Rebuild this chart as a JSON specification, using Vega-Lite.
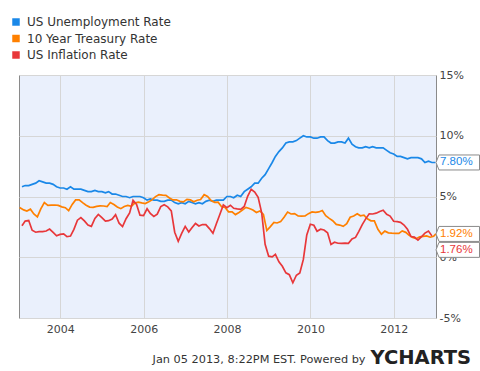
{
  "$schema": "https://vega.github.io/schema/vega-lite/v6.json",
  "width": 417,
  "height": 243,
  "autosize": {"type": "none"},
  "padding": {"left": 19, "top": 75, "right": 44, "bottom": 53},
  "background": "white",
  "config": {
    "font": "DejaVu Sans",
    "view": {"fill": "#EAF0FC", "stroke": "#8a8a8a", "strokeWidth": 1},
    "axis": {"gridColor": "#d6d6d6", "gridWidth": 1, "domain": false, "ticks": false, "labelFont": "DejaVu Sans", "labelFontSize": 11, "labelColor": "#444444"}
  },
  "datasets": {
    "rates": [
      {"series": "US Unemployment Rate", "date": "2003-01-31", "value": 5.8},
      {"series": "US Unemployment Rate", "date": "2003-02-28", "value": 5.9},
      {"series": "US Unemployment Rate", "date": "2003-03-31", "value": 5.9},
      {"series": "US Unemployment Rate", "date": "2003-04-30", "value": 6.0},
      {"series": "US Unemployment Rate", "date": "2003-05-31", "value": 6.1},
      {"series": "US Unemployment Rate", "date": "2003-06-30", "value": 6.3},
      {"series": "US Unemployment Rate", "date": "2003-07-31", "value": 6.2},
      {"series": "US Unemployment Rate", "date": "2003-08-31", "value": 6.1},
      {"series": "US Unemployment Rate", "date": "2003-09-30", "value": 6.1},
      {"series": "US Unemployment Rate", "date": "2003-10-31", "value": 6.0},
      {"series": "US Unemployment Rate", "date": "2003-11-30", "value": 5.8},
      {"series": "US Unemployment Rate", "date": "2003-12-31", "value": 5.7},
      {"series": "US Unemployment Rate", "date": "2004-01-31", "value": 5.7},
      {"series": "US Unemployment Rate", "date": "2004-02-29", "value": 5.6},
      {"series": "US Unemployment Rate", "date": "2004-03-31", "value": 5.8},
      {"series": "US Unemployment Rate", "date": "2004-04-30", "value": 5.6},
      {"series": "US Unemployment Rate", "date": "2004-05-31", "value": 5.6},
      {"series": "US Unemployment Rate", "date": "2004-06-30", "value": 5.6},
      {"series": "US Unemployment Rate", "date": "2004-07-31", "value": 5.5},
      {"series": "US Unemployment Rate", "date": "2004-08-31", "value": 5.4},
      {"series": "US Unemployment Rate", "date": "2004-09-30", "value": 5.4},
      {"series": "US Unemployment Rate", "date": "2004-10-31", "value": 5.5},
      {"series": "US Unemployment Rate", "date": "2004-11-30", "value": 5.4},
      {"series": "US Unemployment Rate", "date": "2004-12-31", "value": 5.4},
      {"series": "US Unemployment Rate", "date": "2005-01-31", "value": 5.3},
      {"series": "US Unemployment Rate", "date": "2005-02-28", "value": 5.4},
      {"series": "US Unemployment Rate", "date": "2005-03-31", "value": 5.2},
      {"series": "US Unemployment Rate", "date": "2005-04-30", "value": 5.2},
      {"series": "US Unemployment Rate", "date": "2005-05-31", "value": 5.1},
      {"series": "US Unemployment Rate", "date": "2005-06-30", "value": 5.0},
      {"series": "US Unemployment Rate", "date": "2005-07-31", "value": 5.0},
      {"series": "US Unemployment Rate", "date": "2005-08-31", "value": 4.9},
      {"series": "US Unemployment Rate", "date": "2005-09-30", "value": 5.0},
      {"series": "US Unemployment Rate", "date": "2005-10-31", "value": 5.0},
      {"series": "US Unemployment Rate", "date": "2005-11-30", "value": 5.0},
      {"series": "US Unemployment Rate", "date": "2005-12-31", "value": 4.9},
      {"series": "US Unemployment Rate", "date": "2006-01-31", "value": 4.7},
      {"series": "US Unemployment Rate", "date": "2006-02-28", "value": 4.8},
      {"series": "US Unemployment Rate", "date": "2006-03-31", "value": 4.7},
      {"series": "US Unemployment Rate", "date": "2006-04-30", "value": 4.7},
      {"series": "US Unemployment Rate", "date": "2006-05-31", "value": 4.6},
      {"series": "US Unemployment Rate", "date": "2006-06-30", "value": 4.6},
      {"series": "US Unemployment Rate", "date": "2006-07-31", "value": 4.7},
      {"series": "US Unemployment Rate", "date": "2006-08-31", "value": 4.7},
      {"series": "US Unemployment Rate", "date": "2006-09-30", "value": 4.5},
      {"series": "US Unemployment Rate", "date": "2006-10-31", "value": 4.4},
      {"series": "US Unemployment Rate", "date": "2006-11-30", "value": 4.5},
      {"series": "US Unemployment Rate", "date": "2006-12-31", "value": 4.4},
      {"series": "US Unemployment Rate", "date": "2007-01-31", "value": 4.6},
      {"series": "US Unemployment Rate", "date": "2007-02-28", "value": 4.5},
      {"series": "US Unemployment Rate", "date": "2007-03-31", "value": 4.4},
      {"series": "US Unemployment Rate", "date": "2007-04-30", "value": 4.5},
      {"series": "US Unemployment Rate", "date": "2007-05-31", "value": 4.4},
      {"series": "US Unemployment Rate", "date": "2007-06-30", "value": 4.6},
      {"series": "US Unemployment Rate", "date": "2007-07-31", "value": 4.7},
      {"series": "US Unemployment Rate", "date": "2007-08-31", "value": 4.6},
      {"series": "US Unemployment Rate", "date": "2007-09-30", "value": 4.7},
      {"series": "US Unemployment Rate", "date": "2007-10-31", "value": 4.7},
      {"series": "US Unemployment Rate", "date": "2007-11-30", "value": 4.7},
      {"series": "US Unemployment Rate", "date": "2007-12-31", "value": 5.0},
      {"series": "US Unemployment Rate", "date": "2008-01-31", "value": 5.0},
      {"series": "US Unemployment Rate", "date": "2008-02-29", "value": 4.9},
      {"series": "US Unemployment Rate", "date": "2008-03-31", "value": 5.1},
      {"series": "US Unemployment Rate", "date": "2008-04-30", "value": 5.0},
      {"series": "US Unemployment Rate", "date": "2008-05-31", "value": 5.4},
      {"series": "US Unemployment Rate", "date": "2008-06-30", "value": 5.6},
      {"series": "US Unemployment Rate", "date": "2008-07-31", "value": 5.8},
      {"series": "US Unemployment Rate", "date": "2008-08-31", "value": 6.1},
      {"series": "US Unemployment Rate", "date": "2008-09-30", "value": 6.1},
      {"series": "US Unemployment Rate", "date": "2008-10-31", "value": 6.5},
      {"series": "US Unemployment Rate", "date": "2008-11-30", "value": 6.8},
      {"series": "US Unemployment Rate", "date": "2008-12-31", "value": 7.3},
      {"series": "US Unemployment Rate", "date": "2009-01-31", "value": 7.8},
      {"series": "US Unemployment Rate", "date": "2009-02-28", "value": 8.3},
      {"series": "US Unemployment Rate", "date": "2009-03-31", "value": 8.7},
      {"series": "US Unemployment Rate", "date": "2009-04-30", "value": 9.0},
      {"series": "US Unemployment Rate", "date": "2009-05-31", "value": 9.4},
      {"series": "US Unemployment Rate", "date": "2009-06-30", "value": 9.5},
      {"series": "US Unemployment Rate", "date": "2009-07-31", "value": 9.5},
      {"series": "US Unemployment Rate", "date": "2009-08-31", "value": 9.6},
      {"series": "US Unemployment Rate", "date": "2009-09-30", "value": 9.8},
      {"series": "US Unemployment Rate", "date": "2009-10-31", "value": 10.0},
      {"series": "US Unemployment Rate", "date": "2009-11-30", "value": 9.9},
      {"series": "US Unemployment Rate", "date": "2009-12-31", "value": 9.9},
      {"series": "US Unemployment Rate", "date": "2010-01-31", "value": 9.8},
      {"series": "US Unemployment Rate", "date": "2010-02-28", "value": 9.8},
      {"series": "US Unemployment Rate", "date": "2010-03-31", "value": 9.9},
      {"series": "US Unemployment Rate", "date": "2010-04-30", "value": 9.9},
      {"series": "US Unemployment Rate", "date": "2010-05-31", "value": 9.6},
      {"series": "US Unemployment Rate", "date": "2010-06-30", "value": 9.4},
      {"series": "US Unemployment Rate", "date": "2010-07-31", "value": 9.4},
      {"series": "US Unemployment Rate", "date": "2010-08-31", "value": 9.5},
      {"series": "US Unemployment Rate", "date": "2010-09-30", "value": 9.5},
      {"series": "US Unemployment Rate", "date": "2010-10-31", "value": 9.4},
      {"series": "US Unemployment Rate", "date": "2010-11-30", "value": 9.8},
      {"series": "US Unemployment Rate", "date": "2010-12-31", "value": 9.3},
      {"series": "US Unemployment Rate", "date": "2011-01-31", "value": 9.1},
      {"series": "US Unemployment Rate", "date": "2011-02-28", "value": 9.0},
      {"series": "US Unemployment Rate", "date": "2011-03-31", "value": 9.0},
      {"series": "US Unemployment Rate", "date": "2011-04-30", "value": 9.1},
      {"series": "US Unemployment Rate", "date": "2011-05-31", "value": 9.0},
      {"series": "US Unemployment Rate", "date": "2011-06-30", "value": 9.1},
      {"series": "US Unemployment Rate", "date": "2011-07-31", "value": 9.0},
      {"series": "US Unemployment Rate", "date": "2011-08-31", "value": 9.0},
      {"series": "US Unemployment Rate", "date": "2011-09-30", "value": 9.0},
      {"series": "US Unemployment Rate", "date": "2011-10-31", "value": 8.8},
      {"series": "US Unemployment Rate", "date": "2011-11-30", "value": 8.6},
      {"series": "US Unemployment Rate", "date": "2011-12-31", "value": 8.5},
      {"series": "US Unemployment Rate", "date": "2012-01-31", "value": 8.3},
      {"series": "US Unemployment Rate", "date": "2012-02-29", "value": 8.3},
      {"series": "US Unemployment Rate", "date": "2012-03-31", "value": 8.2},
      {"series": "US Unemployment Rate", "date": "2012-04-30", "value": 8.1},
      {"series": "US Unemployment Rate", "date": "2012-05-31", "value": 8.2},
      {"series": "US Unemployment Rate", "date": "2012-06-30", "value": 8.2},
      {"series": "US Unemployment Rate", "date": "2012-07-31", "value": 8.2},
      {"series": "US Unemployment Rate", "date": "2012-08-31", "value": 8.1},
      {"series": "US Unemployment Rate", "date": "2012-09-30", "value": 7.8},
      {"series": "US Unemployment Rate", "date": "2012-10-31", "value": 7.9},
      {"series": "US Unemployment Rate", "date": "2012-11-30", "value": 7.8},
      {"series": "US Unemployment Rate", "date": "2012-12-31", "value": 7.8},

      {"series": "10 Year Treasury Rate", "date": "2003-01-10", "value": 4.1},
      {"series": "10 Year Treasury Rate", "date": "2003-02-15", "value": 3.9},
      {"series": "10 Year Treasury Rate", "date": "2003-03-15", "value": 3.81},
      {"series": "10 Year Treasury Rate", "date": "2003-04-15", "value": 3.96},
      {"series": "10 Year Treasury Rate", "date": "2003-05-15", "value": 3.57},
      {"series": "10 Year Treasury Rate", "date": "2003-06-15", "value": 3.33},
      {"series": "10 Year Treasury Rate", "date": "2003-07-15", "value": 3.98},
      {"series": "10 Year Treasury Rate", "date": "2003-08-15", "value": 4.5},
      {"series": "10 Year Treasury Rate", "date": "2003-09-15", "value": 4.27},
      {"series": "10 Year Treasury Rate", "date": "2003-10-15", "value": 4.29},
      {"series": "10 Year Treasury Rate", "date": "2003-11-15", "value": 4.3},
      {"series": "10 Year Treasury Rate", "date": "2003-12-15", "value": 4.27},
      {"series": "10 Year Treasury Rate", "date": "2004-01-15", "value": 4.15},
      {"series": "10 Year Treasury Rate", "date": "2004-02-15", "value": 4.08},
      {"series": "10 Year Treasury Rate", "date": "2004-03-15", "value": 3.83},
      {"series": "10 Year Treasury Rate", "date": "2004-04-15", "value": 4.35},
      {"series": "10 Year Treasury Rate", "date": "2004-05-15", "value": 4.72},
      {"series": "10 Year Treasury Rate", "date": "2004-06-15", "value": 4.73},
      {"series": "10 Year Treasury Rate", "date": "2004-07-15", "value": 4.5},
      {"series": "10 Year Treasury Rate", "date": "2004-08-15", "value": 4.28},
      {"series": "10 Year Treasury Rate", "date": "2004-09-15", "value": 4.13},
      {"series": "10 Year Treasury Rate", "date": "2004-10-15", "value": 4.1},
      {"series": "10 Year Treasury Rate", "date": "2004-11-15", "value": 4.19},
      {"series": "10 Year Treasury Rate", "date": "2004-12-15", "value": 4.23},
      {"series": "10 Year Treasury Rate", "date": "2005-01-15", "value": 4.22},
      {"series": "10 Year Treasury Rate", "date": "2005-02-15", "value": 4.17},
      {"series": "10 Year Treasury Rate", "date": "2005-03-15", "value": 4.5},
      {"series": "10 Year Treasury Rate", "date": "2005-04-15", "value": 4.34},
      {"series": "10 Year Treasury Rate", "date": "2005-05-15", "value": 4.14},
      {"series": "10 Year Treasury Rate", "date": "2005-06-15", "value": 4.0},
      {"series": "10 Year Treasury Rate", "date": "2005-07-15", "value": 4.18},
      {"series": "10 Year Treasury Rate", "date": "2005-08-15", "value": 4.26},
      {"series": "10 Year Treasury Rate", "date": "2005-09-15", "value": 4.2},
      {"series": "10 Year Treasury Rate", "date": "2005-10-15", "value": 4.46},
      {"series": "10 Year Treasury Rate", "date": "2005-11-15", "value": 4.54},
      {"series": "10 Year Treasury Rate", "date": "2005-12-15", "value": 4.47},
      {"series": "10 Year Treasury Rate", "date": "2006-01-15", "value": 4.42},
      {"series": "10 Year Treasury Rate", "date": "2006-02-15", "value": 4.57},
      {"series": "10 Year Treasury Rate", "date": "2006-03-15", "value": 4.72},
      {"series": "10 Year Treasury Rate", "date": "2006-04-15", "value": 4.99},
      {"series": "10 Year Treasury Rate", "date": "2006-05-15", "value": 5.15},
      {"series": "10 Year Treasury Rate", "date": "2006-06-15", "value": 5.11},
      {"series": "10 Year Treasury Rate", "date": "2006-07-15", "value": 5.09},
      {"series": "10 Year Treasury Rate", "date": "2006-08-15", "value": 4.88},
      {"series": "10 Year Treasury Rate", "date": "2006-09-15", "value": 4.72},
      {"series": "10 Year Treasury Rate", "date": "2006-10-15", "value": 4.73},
      {"series": "10 Year Treasury Rate", "date": "2006-11-15", "value": 4.6},
      {"series": "10 Year Treasury Rate", "date": "2006-12-15", "value": 4.56},
      {"series": "10 Year Treasury Rate", "date": "2007-01-15", "value": 4.76},
      {"series": "10 Year Treasury Rate", "date": "2007-02-15", "value": 4.72},
      {"series": "10 Year Treasury Rate", "date": "2007-03-15", "value": 4.56},
      {"series": "10 Year Treasury Rate", "date": "2007-04-15", "value": 4.69},
      {"series": "10 Year Treasury Rate", "date": "2007-05-15", "value": 4.75},
      {"series": "10 Year Treasury Rate", "date": "2007-06-15", "value": 5.15},
      {"series": "10 Year Treasury Rate", "date": "2007-07-15", "value": 5.0},
      {"series": "10 Year Treasury Rate", "date": "2007-08-15", "value": 4.67},
      {"series": "10 Year Treasury Rate", "date": "2007-09-15", "value": 4.52},
      {"series": "10 Year Treasury Rate", "date": "2007-10-15", "value": 4.53},
      {"series": "10 Year Treasury Rate", "date": "2007-11-15", "value": 4.15},
      {"series": "10 Year Treasury Rate", "date": "2007-12-15", "value": 4.1},
      {"series": "10 Year Treasury Rate", "date": "2008-01-15", "value": 3.74},
      {"series": "10 Year Treasury Rate", "date": "2008-02-15", "value": 3.74},
      {"series": "10 Year Treasury Rate", "date": "2008-03-15", "value": 3.51},
      {"series": "10 Year Treasury Rate", "date": "2008-04-15", "value": 3.68},
      {"series": "10 Year Treasury Rate", "date": "2008-05-15", "value": 3.88},
      {"series": "10 Year Treasury Rate", "date": "2008-06-15", "value": 4.1},
      {"series": "10 Year Treasury Rate", "date": "2008-07-15", "value": 4.01},
      {"series": "10 Year Treasury Rate", "date": "2008-08-15", "value": 3.89},
      {"series": "10 Year Treasury Rate", "date": "2008-09-15", "value": 3.69},
      {"series": "10 Year Treasury Rate", "date": "2008-10-15", "value": 3.81},
      {"series": "10 Year Treasury Rate", "date": "2008-11-15", "value": 3.53},
      {"series": "10 Year Treasury Rate", "date": "2008-12-15", "value": 2.2},
      {"series": "10 Year Treasury Rate", "date": "2009-01-15", "value": 2.52},
      {"series": "10 Year Treasury Rate", "date": "2009-02-15", "value": 2.87},
      {"series": "10 Year Treasury Rate", "date": "2009-03-15", "value": 2.82},
      {"series": "10 Year Treasury Rate", "date": "2009-04-15", "value": 2.93},
      {"series": "10 Year Treasury Rate", "date": "2009-05-15", "value": 3.29},
      {"series": "10 Year Treasury Rate", "date": "2009-06-15", "value": 3.72},
      {"series": "10 Year Treasury Rate", "date": "2009-07-15", "value": 3.56},
      {"series": "10 Year Treasury Rate", "date": "2009-08-15", "value": 3.59},
      {"series": "10 Year Treasury Rate", "date": "2009-09-15", "value": 3.4},
      {"series": "10 Year Treasury Rate", "date": "2009-10-15", "value": 3.39},
      {"series": "10 Year Treasury Rate", "date": "2009-11-15", "value": 3.4},
      {"series": "10 Year Treasury Rate", "date": "2009-12-15", "value": 3.59},
      {"series": "10 Year Treasury Rate", "date": "2010-01-15", "value": 3.73},
      {"series": "10 Year Treasury Rate", "date": "2010-02-15", "value": 3.69},
      {"series": "10 Year Treasury Rate", "date": "2010-03-15", "value": 3.73},
      {"series": "10 Year Treasury Rate", "date": "2010-04-15", "value": 3.85},
      {"series": "10 Year Treasury Rate", "date": "2010-05-15", "value": 3.42},
      {"series": "10 Year Treasury Rate", "date": "2010-06-15", "value": 3.2},
      {"series": "10 Year Treasury Rate", "date": "2010-07-15", "value": 3.01},
      {"series": "10 Year Treasury Rate", "date": "2010-08-15", "value": 2.7},
      {"series": "10 Year Treasury Rate", "date": "2010-09-15", "value": 2.65},
      {"series": "10 Year Treasury Rate", "date": "2010-10-15", "value": 2.54},
      {"series": "10 Year Treasury Rate", "date": "2010-11-15", "value": 2.76},
      {"series": "10 Year Treasury Rate", "date": "2010-12-15", "value": 3.29},
      {"series": "10 Year Treasury Rate", "date": "2011-01-15", "value": 3.39},
      {"series": "10 Year Treasury Rate", "date": "2011-02-15", "value": 3.58},
      {"series": "10 Year Treasury Rate", "date": "2011-03-15", "value": 3.41},
      {"series": "10 Year Treasury Rate", "date": "2011-04-15", "value": 3.46},
      {"series": "10 Year Treasury Rate", "date": "2011-05-15", "value": 3.17},
      {"series": "10 Year Treasury Rate", "date": "2011-06-15", "value": 3.0},
      {"series": "10 Year Treasury Rate", "date": "2011-07-15", "value": 3.0},
      {"series": "10 Year Treasury Rate", "date": "2011-08-15", "value": 2.3},
      {"series": "10 Year Treasury Rate", "date": "2011-09-15", "value": 1.9},
      {"series": "10 Year Treasury Rate", "date": "2011-10-15", "value": 2.15},
      {"series": "10 Year Treasury Rate", "date": "2011-11-15", "value": 2.01},
      {"series": "10 Year Treasury Rate", "date": "2011-12-15", "value": 1.98},
      {"series": "10 Year Treasury Rate", "date": "2012-01-15", "value": 1.97},
      {"series": "10 Year Treasury Rate", "date": "2012-02-15", "value": 1.97},
      {"series": "10 Year Treasury Rate", "date": "2012-03-15", "value": 2.17},
      {"series": "10 Year Treasury Rate", "date": "2012-04-15", "value": 2.05},
      {"series": "10 Year Treasury Rate", "date": "2012-05-15", "value": 1.8},
      {"series": "10 Year Treasury Rate", "date": "2012-06-15", "value": 1.62},
      {"series": "10 Year Treasury Rate", "date": "2012-07-15", "value": 1.53},
      {"series": "10 Year Treasury Rate", "date": "2012-08-15", "value": 1.68},
      {"series": "10 Year Treasury Rate", "date": "2012-09-15", "value": 1.72},
      {"series": "10 Year Treasury Rate", "date": "2012-10-15", "value": 1.75},
      {"series": "10 Year Treasury Rate", "date": "2012-11-15", "value": 1.65},
      {"series": "10 Year Treasury Rate", "date": "2012-12-15", "value": 1.72},
      {"series": "10 Year Treasury Rate", "date": "2013-01-04", "value": 1.92},

      {"series": "US Inflation Rate", "date": "2003-01-31", "value": 2.6},
      {"series": "US Inflation Rate", "date": "2003-02-28", "value": 2.98},
      {"series": "US Inflation Rate", "date": "2003-03-31", "value": 3.02},
      {"series": "US Inflation Rate", "date": "2003-04-30", "value": 2.22},
      {"series": "US Inflation Rate", "date": "2003-05-31", "value": 2.06},
      {"series": "US Inflation Rate", "date": "2003-06-30", "value": 2.11},
      {"series": "US Inflation Rate", "date": "2003-07-31", "value": 2.11},
      {"series": "US Inflation Rate", "date": "2003-08-31", "value": 2.16},
      {"series": "US Inflation Rate", "date": "2003-09-30", "value": 2.32},
      {"series": "US Inflation Rate", "date": "2003-10-31", "value": 2.04},
      {"series": "US Inflation Rate", "date": "2003-11-30", "value": 1.77},
      {"series": "US Inflation Rate", "date": "2003-12-31", "value": 1.88},
      {"series": "US Inflation Rate", "date": "2004-01-31", "value": 1.93},
      {"series": "US Inflation Rate", "date": "2004-02-29", "value": 1.69},
      {"series": "US Inflation Rate", "date": "2004-03-31", "value": 1.74},
      {"series": "US Inflation Rate", "date": "2004-04-30", "value": 2.29},
      {"series": "US Inflation Rate", "date": "2004-05-31", "value": 3.05},
      {"series": "US Inflation Rate", "date": "2004-06-30", "value": 3.27},
      {"series": "US Inflation Rate", "date": "2004-07-31", "value": 2.99},
      {"series": "US Inflation Rate", "date": "2004-08-31", "value": 2.65},
      {"series": "US Inflation Rate", "date": "2004-09-30", "value": 2.54},
      {"series": "US Inflation Rate", "date": "2004-10-31", "value": 3.19},
      {"series": "US Inflation Rate", "date": "2004-11-30", "value": 3.52},
      {"series": "US Inflation Rate", "date": "2004-12-31", "value": 3.26},
      {"series": "US Inflation Rate", "date": "2005-01-31", "value": 2.97},
      {"series": "US Inflation Rate", "date": "2005-02-28", "value": 3.01},
      {"series": "US Inflation Rate", "date": "2005-03-31", "value": 3.15},
      {"series": "US Inflation Rate", "date": "2005-04-30", "value": 3.51},
      {"series": "US Inflation Rate", "date": "2005-05-31", "value": 2.8},
      {"series": "US Inflation Rate", "date": "2005-06-30", "value": 2.53},
      {"series": "US Inflation Rate", "date": "2005-07-31", "value": 3.17},
      {"series": "US Inflation Rate", "date": "2005-08-31", "value": 3.64},
      {"series": "US Inflation Rate", "date": "2005-09-30", "value": 4.69},
      {"series": "US Inflation Rate", "date": "2005-10-31", "value": 4.35},
      {"series": "US Inflation Rate", "date": "2005-11-30", "value": 3.46},
      {"series": "US Inflation Rate", "date": "2005-12-31", "value": 3.42},
      {"series": "US Inflation Rate", "date": "2006-01-31", "value": 3.99},
      {"series": "US Inflation Rate", "date": "2006-02-28", "value": 3.6},
      {"series": "US Inflation Rate", "date": "2006-03-31", "value": 3.36},
      {"series": "US Inflation Rate", "date": "2006-04-30", "value": 3.55},
      {"series": "US Inflation Rate", "date": "2006-05-31", "value": 4.17},
      {"series": "US Inflation Rate", "date": "2006-06-30", "value": 4.32},
      {"series": "US Inflation Rate", "date": "2006-07-31", "value": 4.15},
      {"series": "US Inflation Rate", "date": "2006-08-31", "value": 3.82},
      {"series": "US Inflation Rate", "date": "2006-09-30", "value": 2.06},
      {"series": "US Inflation Rate", "date": "2006-10-31", "value": 1.31},
      {"series": "US Inflation Rate", "date": "2006-11-30", "value": 1.97},
      {"series": "US Inflation Rate", "date": "2006-12-31", "value": 2.54},
      {"series": "US Inflation Rate", "date": "2007-01-31", "value": 2.08},
      {"series": "US Inflation Rate", "date": "2007-02-28", "value": 2.42},
      {"series": "US Inflation Rate", "date": "2007-03-31", "value": 2.78},
      {"series": "US Inflation Rate", "date": "2007-04-30", "value": 2.57},
      {"series": "US Inflation Rate", "date": "2007-05-31", "value": 2.69},
      {"series": "US Inflation Rate", "date": "2007-06-30", "value": 2.69},
      {"series": "US Inflation Rate", "date": "2007-07-31", "value": 2.36},
      {"series": "US Inflation Rate", "date": "2007-08-31", "value": 1.97},
      {"series": "US Inflation Rate", "date": "2007-09-30", "value": 2.76},
      {"series": "US Inflation Rate", "date": "2007-10-31", "value": 3.54},
      {"series": "US Inflation Rate", "date": "2007-11-30", "value": 4.31},
      {"series": "US Inflation Rate", "date": "2007-12-31", "value": 4.08},
      {"series": "US Inflation Rate", "date": "2008-01-31", "value": 4.28},
      {"series": "US Inflation Rate", "date": "2008-02-29", "value": 4.03},
      {"series": "US Inflation Rate", "date": "2008-03-31", "value": 3.98},
      {"series": "US Inflation Rate", "date": "2008-04-30", "value": 3.94},
      {"series": "US Inflation Rate", "date": "2008-05-31", "value": 4.18},
      {"series": "US Inflation Rate", "date": "2008-06-30", "value": 5.02},
      {"series": "US Inflation Rate", "date": "2008-07-31", "value": 5.6},
      {"series": "US Inflation Rate", "date": "2008-08-31", "value": 5.37},
      {"series": "US Inflation Rate", "date": "2008-09-30", "value": 4.94},
      {"series": "US Inflation Rate", "date": "2008-10-31", "value": 3.66},
      {"series": "US Inflation Rate", "date": "2008-11-30", "value": 1.07},
      {"series": "US Inflation Rate", "date": "2008-12-31", "value": 0.09},
      {"series": "US Inflation Rate", "date": "2009-01-31", "value": 0.03},
      {"series": "US Inflation Rate", "date": "2009-02-28", "value": 0.24},
      {"series": "US Inflation Rate", "date": "2009-03-31", "value": -0.38},
      {"series": "US Inflation Rate", "date": "2009-04-30", "value": -0.74},
      {"series": "US Inflation Rate", "date": "2009-05-31", "value": -1.28},
      {"series": "US Inflation Rate", "date": "2009-06-30", "value": -1.43},
      {"series": "US Inflation Rate", "date": "2009-07-31", "value": -2.1},
      {"series": "US Inflation Rate", "date": "2009-08-31", "value": -1.48},
      {"series": "US Inflation Rate", "date": "2009-09-30", "value": -1.29},
      {"series": "US Inflation Rate", "date": "2009-10-31", "value": -0.18},
      {"series": "US Inflation Rate", "date": "2009-11-30", "value": 1.84},
      {"series": "US Inflation Rate", "date": "2009-12-31", "value": 2.72},
      {"series": "US Inflation Rate", "date": "2010-01-31", "value": 2.63},
      {"series": "US Inflation Rate", "date": "2010-02-28", "value": 2.14},
      {"series": "US Inflation Rate", "date": "2010-03-31", "value": 2.31},
      {"series": "US Inflation Rate", "date": "2010-04-30", "value": 2.24},
      {"series": "US Inflation Rate", "date": "2010-05-31", "value": 2.02},
      {"series": "US Inflation Rate", "date": "2010-06-30", "value": 1.05},
      {"series": "US Inflation Rate", "date": "2010-07-31", "value": 1.24},
      {"series": "US Inflation Rate", "date": "2010-08-31", "value": 1.15},
      {"series": "US Inflation Rate", "date": "2010-09-30", "value": 1.14},
      {"series": "US Inflation Rate", "date": "2010-10-31", "value": 1.17},
      {"series": "US Inflation Rate", "date": "2010-11-30", "value": 1.14},
      {"series": "US Inflation Rate", "date": "2010-12-31", "value": 1.5},
      {"series": "US Inflation Rate", "date": "2011-01-31", "value": 1.63},
      {"series": "US Inflation Rate", "date": "2011-02-28", "value": 2.11},
      {"series": "US Inflation Rate", "date": "2011-03-31", "value": 2.68},
      {"series": "US Inflation Rate", "date": "2011-04-30", "value": 3.16},
      {"series": "US Inflation Rate", "date": "2011-05-31", "value": 3.57},
      {"series": "US Inflation Rate", "date": "2011-06-30", "value": 3.56},
      {"series": "US Inflation Rate", "date": "2011-07-31", "value": 3.63},
      {"series": "US Inflation Rate", "date": "2011-08-31", "value": 3.77},
      {"series": "US Inflation Rate", "date": "2011-09-30", "value": 3.87},
      {"series": "US Inflation Rate", "date": "2011-10-31", "value": 3.53},
      {"series": "US Inflation Rate", "date": "2011-11-30", "value": 3.39},
      {"series": "US Inflation Rate", "date": "2011-12-31", "value": 2.96},
      {"series": "US Inflation Rate", "date": "2012-01-31", "value": 2.93},
      {"series": "US Inflation Rate", "date": "2012-02-29", "value": 2.87},
      {"series": "US Inflation Rate", "date": "2012-03-31", "value": 2.65},
      {"series": "US Inflation Rate", "date": "2012-04-30", "value": 2.3},
      {"series": "US Inflation Rate", "date": "2012-05-31", "value": 1.7},
      {"series": "US Inflation Rate", "date": "2012-06-30", "value": 1.66},
      {"series": "US Inflation Rate", "date": "2012-07-31", "value": 1.41},
      {"series": "US Inflation Rate", "date": "2012-08-31", "value": 1.69},
      {"series": "US Inflation Rate", "date": "2012-09-30", "value": 1.99},
      {"series": "US Inflation Rate", "date": "2012-10-31", "value": 2.16},
      {"series": "US Inflation Rate", "date": "2012-11-30", "value": 1.76}
    ],
    "latest": [
      {"series": "US Unemployment Rate", "date": "2013-01-05", "value": 7.8, "label": "7.80%"},
      {"series": "10 Year Treasury Rate", "date": "2013-01-05", "value": 1.92, "label": "1.92%"},
      {"series": "US Inflation Rate", "date": "2013-01-05", "value": 1.76, "label": "1.76%"}
    ]
  },
  "encoding": {
    "x": {
      "field": "date",
      "type": "temporal",
      "scale": {"domain": [{"year": 2003, "month": 1, "date": 5}, {"year": 2013, "month": 1, "date": 5}]},
      "axis": {
        "values": [{"year": 2004, "month": 1, "date": 1}, {"year": 2006, "month": 1, "date": 1}, {"year": 2008, "month": 1, "date": 1}, {"year": 2010, "month": 1, "date": 1}, {"year": 2012, "month": 1, "date": 1}],
        "format": "%Y",
        "labelPadding": 5,
        "labelFontSize": 11,
        "grid": true,
        "title": "Jan 05 2013, 8:22PM EST. Powered by",
        "titleFont": "DejaVu Sans",
        "titleFontSize": 11.3,
        "titleFontWeight": "normal",
        "titleColor": "#333333",
        "titleAlign": "right",
        "titleAnchor": "end",
        "titleBaseline": "alphabetic",
        "titleX": 346,
        "titleY": 44
      }
    },
    "y": {
      "field": "value",
      "type": "quantitative",
      "scale": {"domain": [-5, 15], "nice": false, "zero": false},
      "axis": {
        "orient": "right",
        "values": [-5, 0, 5, 10, 15],
        "labelExpr": "datum.value + '%'",
        "labelPadding": 3,
        "labelFontSize": 11,
        "grid": true,
        "title": "YCHARTS",
        "titleFont": "DejaVu Sans",
        "titleFontSize": 19.5,
        "titleFontWeight": "bold",
        "titleColor": "#222222",
        "titleAngle": 0,
        "titleAlign": "left",
        "titleAnchor": "start",
        "titleBaseline": "alphabetic",
        "titleX": -66,
        "titleY": 288.5
      }
    }
  },
  "layer": [
    {
      "data": {"name": "rates"},
      "mark": {"type": "line", "strokeWidth": 1.7, "interpolate": "linear"},
      "encoding": {
        "color": {
          "field": "series",
          "type": "nominal",
          "sort": ["US Unemployment Rate", "10 Year Treasury Rate", "US Inflation Rate"],
          "scale": {"domain": ["US Unemployment Rate", "10 Year Treasury Rate", "US Inflation Rate"], "range": ["#1A88E8", "#FF8000", "#E8373A"]},
          "legend": {
            "orient": "none",
            "legendX": -9,
            "legendY": -59,
            "title": null,
            "padding": 0,
            "symbolType": "square",
            "symbolSize": 56,
            "symbolStrokeWidth": 0,
            "labelFont": "DejaVu Sans",
            "labelFontSize": 12,
            "labelColor": "#333333",
            "labelOffset": 5,
            "rowPadding": 4.5,
            "encode": {"symbols": {"update": {"fill": {"scale": "color", "field": "value"}, "strokeWidth": {"value": 0}, "opacity": {"value": 1}}}}
          }
        }
      }
    },
    {
      "data": {"name": "latest"},
      "transform": [{"filter": "datum.series !== 'US Inflation Rate'"}],
      "mark": {"type": "point", "shape": "M0,0L0.4,-1L5.8,-1L5.8,1L0.4,1Z", "size": 225, "filled": true, "fill": "white", "stroke": "#8a8a8a", "strokeWidth": 1, "opacity": 1}
    },
    {
      "data": {"name": "latest"},
      "transform": [{"filter": "datum.series === 'US Inflation Rate'"}],
      "mark": {"type": "point", "shape": "M0,0L0.4,-1L5.8,-1L5.8,1L0.4,1Z", "size": 225, "filled": true, "fill": "white", "stroke": "#8a8a8a", "strokeWidth": 1, "opacity": 1, "yOffset": 14}
    },
    {
      "data": {"name": "latest"},
      "transform": [{"filter": "datum.series !== 'US Inflation Rate'"}],
      "mark": {"type": "text", "align": "left", "baseline": "middle", "dx": 4, "font": "Liberation Sans", "fontSize": 11.5},
      "encoding": {"text": {"field": "label"}, "color": {"field": "series", "type": "nominal", "legend": null}}
    },
    {
      "data": {"name": "latest"},
      "transform": [{"filter": "datum.series === 'US Inflation Rate'"}],
      "mark": {"type": "text", "align": "left", "baseline": "middle", "dx": 4, "yOffset": 14, "font": "Liberation Sans", "fontSize": 11.5},
      "encoding": {"text": {"field": "label"}, "color": {"field": "series", "type": "nominal", "legend": null}}
    }
  ]
}
